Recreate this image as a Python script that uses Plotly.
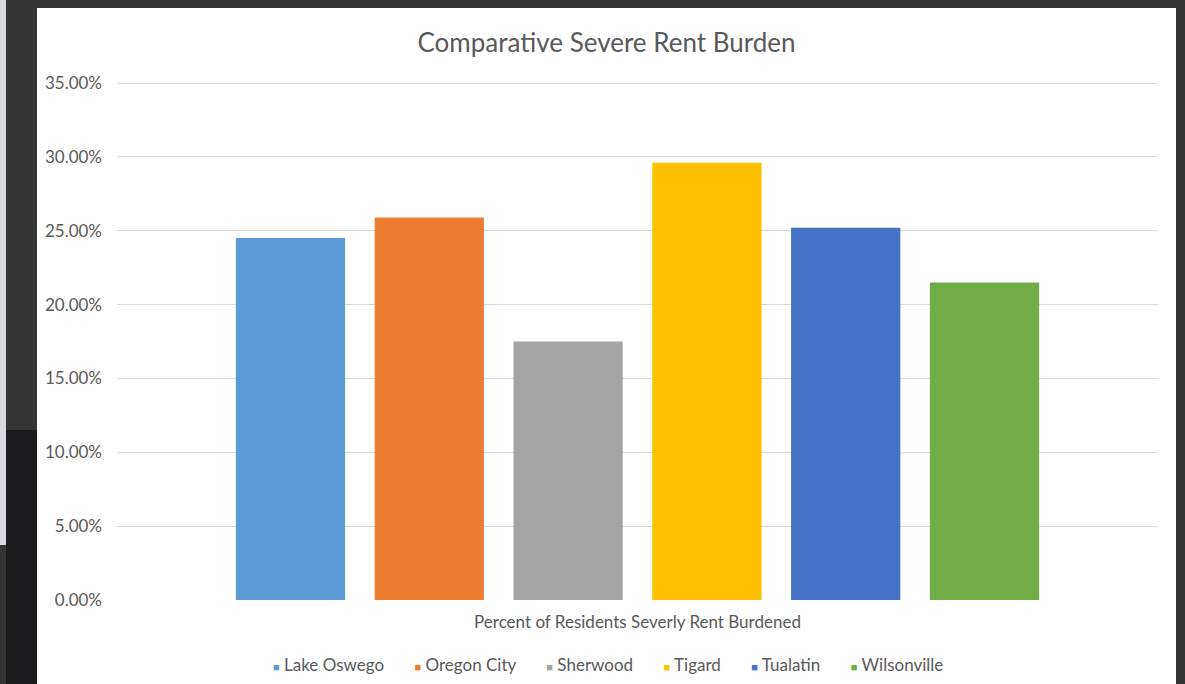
import plotly.graph_objects as go

# Severe rent burden by city (share of residents)
cities = ["Lake Oswego", "Oregon City", "Sherwood", "Tigard", "Tualatin", "Wilsonville"]
burden = [0.245, 0.259, 0.175, 0.296, 0.252, 0.215]
colors = ["#5B9BD5", "#ED7D31", "#A5A5A5", "#FFC000", "#4472C4", "#70AD47"]
category = ["Percent of Residents Severly Rent Burdened"]
y_ticks = [0.0, 0.05, 0.10, 0.15, 0.20, 0.25, 0.30, 0.35]

W, H = 1185, 684
L, R, T, B = 117, 1158, 79, 600  # plot area in pixels
Y_MAX = 0.35 * (B - T) / (B - 83)  # 35% gridline sits at y=83, inside the area


def xp(px):
    return (px - L) / (R - L)


def yp(py):
    return (B - py) / (B - T)


FONT = "Lato"
GREY = "#595959"

fig = go.Figure()
for name, val, col in zip(cities, burden, colors):
    fig.add_trace(go.Bar(
        name=name, x=category, y=[val], marker_color=col,
        marker_line_width=0, showlegend=False,
    ))

# dark frame and white card behind the chart
shapes = [
    dict(type="rect", xref="paper", yref="paper", layer="below",
         x0=xp(0), x1=xp(6), y0=yp(0), y1=yp(545),
         fillcolor="#d9d9e3", line_width=0),
    dict(type="rect", xref="paper", yref="paper", layer="below",
         x0=xp(6), x1=xp(37), y0=yp(430), y1=yp(684),
         fillcolor="#1c1c1e", line_width=0),
    dict(type="rect", xref="paper", yref="paper", layer="below",
         x0=xp(37), x1=xp(1176), y0=yp(8), y1=yp(684),
         fillcolor="white", line_width=0),
]

# legend row
items = [
    f"<span style='color:{c};font-size:11px'>■</span> {n}"
    for n, c in zip(cities, colors)
]
legend_text = "&nbsp;&nbsp;&nbsp;&nbsp;&nbsp;&nbsp;&nbsp;".join(items)

fig.update_layout(
    width=W, height=H,
    margin=dict(l=L, r=W - R, t=T, b=H - B),
    paper_bgcolor="#353535",
    plot_bgcolor="white",
    barmode="group",
    bargap=0.2,
    bargroupgap=0.213,
    font=dict(family=FONT, color=GREY),
    title=dict(
        text="Comparative Severe Rent Burden",
        x=606.5 / W, xanchor="center", xref="container",
        y=1 - 43 / H, yanchor="middle", yref="container",
        font=dict(family=FONT, size=26, color=GREY),
    ),
    shapes=shapes,
    annotations=[dict(
        text=legend_text, xref="paper", yref="paper",
        x=xp(608), y=yp(664), xanchor="center", yanchor="middle",
        showarrow=False, font=dict(family=FONT, size=17, color=GREY),
    )],
    yaxis=dict(
        range=[0, Y_MAX], tickvals=y_ticks, tickformat=".2%",
        showgrid=True, gridcolor="#d9d9d9", gridwidth=1,
        zeroline=False, showline=False,
        ticklabelstandoff=14,
        tickfont=dict(family=FONT, size=17, color=GREY),
        fixedrange=True,
    ),
    xaxis=dict(
        showgrid=False, showline=False, zeroline=False,
        ticklabelstandoff=10,
        tickfont=dict(family=FONT, size=17, color=GREY),
        fixedrange=True,
    ),
)

fig.write_html("out.html")
